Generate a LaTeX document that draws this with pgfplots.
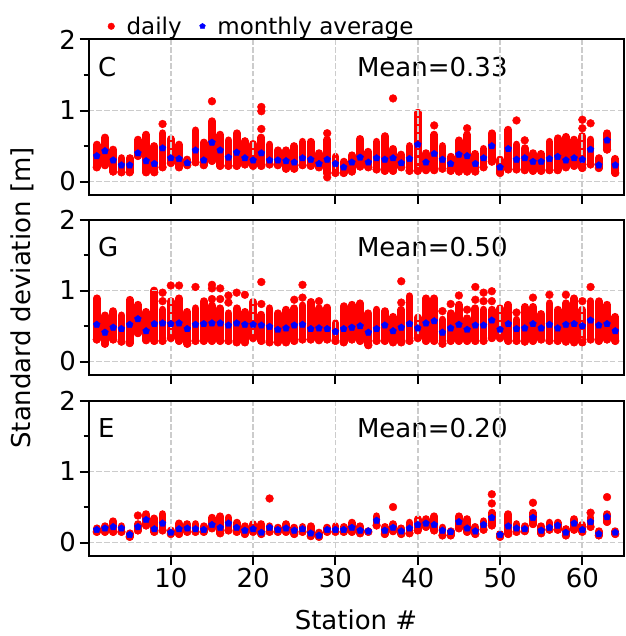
\documentclass[border=0pt]{standalone}
\usepackage{pgfplots}
\pgfplotsset{compat=1.18}
\usepackage{pgfplotstable}
\usepackage{fontspec}
\setmainfont{DejaVu Sans}

% Panel C: station, lowest daily, highest daily, monthly average
\pgfplotstableread{
s lo hi avg
1 0.20 0.52 0.36
2 0.23 0.62 0.43
3 0.14 0.45 0.30
4 0.13 0.33 0.23
5 0.13 0.33 0.23
6 0.36 0.59 0.40
7 0.13 0.66 0.29
8 0.13 0.50 0.25
9 0.20 0.68 0.47
10 0.26 0.60 0.33
11 0.20 0.52 0.32
12 0.23 0.31 0.26
13 0.27 0.72 0.44
14 0.23 0.55 0.30
15 0.29 0.85 0.55
16 0.22 0.66 0.44
17 0.22 0.58 0.34
18 0.22 0.68 0.41
19 0.24 0.57 0.33
20 0.22 0.53 0.30
21 0.22 0.62 0.40
22 0.24 0.52 0.30
23 0.23 0.44 0.30
24 0.18 0.44 0.29
25 0.18 0.50 0.27
26 0.23 0.56 0.33
27 0.22 0.56 0.31
28 0.20 0.40 0.25
29 0.12 0.59 0.31
30 0.12 0.35 0.25
31 0.12 0.28 0.20
32 0.14 0.37 0.27
33 0.21 0.60 0.34
34 0.20 0.42 0.27
35 0.17 0.56 0.33
36 0.15 0.64 0.31
37 0.15 0.46 0.33
38 0.20 0.38 0.26
39 0.15 0.50 0.32
40 0.15 0.97 0.52
41 0.16 0.40 0.27
42 0.16 0.66 0.39
43 0.18 0.50 0.31
44 0.15 0.35 0.25
45 0.14 0.58 0.38
46 0.14 0.66 0.36
47 0.14 0.39 0.25
48 0.20 0.46 0.33
49 0.28 0.68 0.50
50 0.12 0.31 0.20
51 0.17 0.73 0.46
52 0.17 0.52 0.31
53 0.16 0.47 0.33
54 0.15 0.40 0.28
55 0.15 0.39 0.28
56 0.16 0.56 0.32
57 0.16 0.61 0.35
58 0.20 0.63 0.30
59 0.22 0.59 0.33
60 0.19 0.64 0.31
61 0.24 0.59 0.45
62 0.19 0.33 0.23
63 0.45 0.68 0.58
64 0.12 0.32 0.23
}\dataC
\pgfplotstableread{
s y
9 0.81
15 1.13
21 1.05
21 0.99
21 0.74
29 0.68
29 0.06
37 1.17
42 0.79
46 0.75
52 0.86
53 0.58
60 0.87
60 0.75
61 0.82
}\outC

% Panel G
\pgfplotstableread{
s lo hi avg
1 0.31 0.89 0.52
2 0.25 0.65 0.41
3 0.31 0.71 0.48
4 0.28 0.65 0.46
5 0.26 0.87 0.52
6 0.40 0.80 0.60
7 0.30 0.70 0.43
8 0.29 1.00 0.53
9 0.29 0.73 0.54
10 0.33 0.85 0.53
11 0.29 0.89 0.54
12 0.25 0.70 0.46
13 0.29 0.75 0.52
14 0.29 0.85 0.53
15 0.29 0.79 0.54
16 0.29 0.75 0.54
17 0.29 0.68 0.51
18 0.27 0.75 0.54
19 0.27 0.70 0.52
20 0.33 0.84 0.52
21 0.29 0.66 0.51
22 0.27 0.75 0.49
23 0.27 0.68 0.45
24 0.27 0.73 0.47
25 0.29 0.75 0.51
26 0.31 0.79 0.52
27 0.31 0.84 0.46
28 0.30 0.75 0.47
29 0.31 0.76 0.46
30 0.29 0.54 0.42
31 0.27 0.78 0.46
32 0.31 0.80 0.48
33 0.29 0.82 0.50
34 0.23 0.68 0.41
35 0.29 0.73 0.46
36 0.29 0.71 0.51
37 0.27 0.63 0.43
38 0.27 0.73 0.48
39 0.29 0.92 0.53
40 0.33 0.62 0.47
41 0.29 0.89 0.54
42 0.29 0.89 0.57
43 0.25 0.59 0.41
44 0.29 0.68 0.47
45 0.29 0.80 0.52
46 0.29 0.61 0.45
47 0.29 0.75 0.51
48 0.29 0.73 0.51
49 0.33 0.73 0.58
50 0.33 0.75 0.45
51 0.29 0.80 0.53
52 0.29 0.59 0.46
53 0.28 0.77 0.47
54 0.29 0.77 0.53
55 0.31 0.67 0.47
56 0.29 0.82 0.52
57 0.29 0.73 0.47
58 0.28 0.82 0.52
59 0.27 0.89 0.53
60 0.27 0.73 0.50
61 0.31 0.85 0.58
62 0.29 0.85 0.51
63 0.31 0.80 0.53
64 0.29 0.63 0.43
}\dataG
\pgfplotstableread{
s y
9 0.97
9 0.85
10 1.07
11 1.07
13 1.05
15 1.08
15 1.03
15 0.88
16 1.03
16 0.88
17 0.93
17 0.83
18 0.97
19 0.94
21 1.12
21 0.81
25 0.87
26 1.08
26 0.90
28 0.85
38 1.13
38 0.83
43 0.71
44 0.81
45 0.93
46 0.73
47 1.05
47 0.87
48 0.97
48 0.85
49 0.99
49 0.85
52 0.69
54 0.90
56 0.94
58 0.94
60 0.85
61 1.05
}\outG

% Panel E
\pgfplotstableread{
s lo hi avg
1 0.15 0.20 0.18
2 0.15 0.23 0.20
3 0.15 0.30 0.22
4 0.15 0.23 0.20
5 0.08 0.13 0.11
6 0.17 0.26 0.22
7 0.24 0.40 0.32
8 0.15 0.34 0.19
9 0.17 0.40 0.27
10 0.12 0.17 0.14
11 0.12 0.27 0.19
12 0.15 0.26 0.20
13 0.15 0.26 0.19
14 0.15 0.23 0.18
15 0.20 0.35 0.25
16 0.13 0.37 0.21
17 0.17 0.35 0.27
18 0.15 0.28 0.21
19 0.12 0.23 0.17
20 0.15 0.26 0.19
21 0.12 0.26 0.14
22 0.15 0.23 0.21
23 0.15 0.21 0.18
24 0.15 0.26 0.20
25 0.12 0.21 0.17
26 0.15 0.22 0.19
27 0.09 0.23 0.13
28 0.08 0.14 0.10
29 0.15 0.21 0.18
30 0.15 0.23 0.18
31 0.15 0.22 0.18
32 0.15 0.28 0.21
33 0.13 0.23 0.17
34 0.15 0.16 0.16
35 0.24 0.37 0.31
36 0.12 0.22 0.17
37 0.16 0.26 0.21
38 0.12 0.20 0.16
39 0.13 0.28 0.20
40 0.17 0.33 0.25
41 0.22 0.33 0.27
42 0.17 0.37 0.25
43 0.10 0.21 0.17
44 0.10 0.16 0.15
45 0.20 0.37 0.29
46 0.15 0.33 0.20
47 0.12 0.22 0.16
48 0.18 0.30 0.25
49 0.24 0.42 0.35
50 0.08 0.12 0.11
51 0.12 0.40 0.23
52 0.15 0.26 0.20
53 0.16 0.23 0.19
54 0.26 0.42 0.35
55 0.13 0.23 0.17
56 0.18 0.28 0.21
57 0.18 0.28 0.24
58 0.10 0.19 0.14
59 0.18 0.33 0.27
60 0.15 0.25 0.18
61 0.22 0.35 0.29
62 0.10 0.16 0.12
63 0.29 0.40 0.36
64 0.12 0.16 0.14
}\dataE
\pgfplotstableread{
s y
6 0.38
22 0.62
37 0.50
49 0.68
49 0.55
54 0.56
61 0.42
63 0.64
}\outE

\newcommand{\bigfont}{\fontsize{26pt}{31pt}\selectfont}

\pgfplotsset{
  panel/.style={
    width=535pt, height=155.5pt, scale only axis,
    xmin=0, xmax=65, ymin=-0.19, ymax=2,
    xtick={10,20,30,40,50,60}, ytick={0,1,2}, minor ytick={0.5,1.5},
    tick pos=left, tick align=outside,
    major tick length=9pt, minor tick length=5pt,
    every major tick/.style={black, line width=2pt},
    every minor tick/.style={black, line width=1.5pt},
    axis line style={line width=2pt},
    grid=major,
    major grid style={draw=gray!40, line width=1.8pt, dash pattern=on 5.5pt off 2.4pt},
    axis on top,
    tick label style={font=\bigfont},
    /pgf/number format/assume math mode=true,
  },
  daily/.style={only marks, mark=*, color=red, mark size=3.9pt, forget plot},
  dailyrange/.style={daily,
    error bars/.cd, y dir=plus, y explicit, error mark=none,
    error bar style={line width=7.8pt, line cap=round, red, solid}},
  monthly/.style={only marks, mark=pentagon*, color=blue, mark size=3.6pt, forget plot},
}

\begin{document}
\begin{tikzpicture}
\useasboundingbox (0,0) rectangle (625pt,-636pt);

% ---------------- Panel C
\begin{axis}[panel, at={(88.5pt,-195pt)}, anchor=south west, xticklabels={},
  legend columns=2,
  legend image code/.code={\draw[#1] plot coordinates {(0pt,0pt)};},
  legend style={draw=none, fill=none, at={(0.036,1.085)}, anchor=west,
    font=\fontsize{23pt}{27pt}\selectfont, inner sep=0pt,
    /tikz/every odd column/.append style={column sep=10pt},
    /tikz/every even column/.append style={column sep=16pt}},
]
\addplot[dailyrange] table[x=s, y=lo, y error expr=\thisrow{hi}-\thisrow{lo}] {\dataC};
\addplot[daily] table[x=s, y=y] {\outC};
\addplot[monthly] table[x=s, y=avg] {\dataC};
\addlegendimage{only marks, mark=*, red, mark size=3.3pt}
\addlegendentry{daily}
\addlegendimage{only marks, mark=pentagon*, blue, mark size=3pt}
\addlegendentry{monthly average}
\node[anchor=west, inner sep=0pt, font=\bigfont] at (axis cs:1.15,1.615) {C};
\node[anchor=west, inner sep=0pt, font=\bigfont] at (axis cs:32.6,1.615) {Mean=0.33};
\end{axis}

% ---------------- Panel G
\begin{axis}[panel, at={(88.5pt,-375pt)}, anchor=south west, xticklabels={}]
\addplot[dailyrange] table[x=s, y=lo, y error expr=\thisrow{hi}-\thisrow{lo}] {\dataG};
\addplot[daily] table[x=s, y=y] {\outG};
\addplot[monthly] table[x=s, y=avg] {\dataG};
\node[anchor=west, inner sep=0pt, font=\bigfont] at (axis cs:1.15,1.615) {G};
\node[anchor=west, inner sep=0pt, font=\bigfont] at (axis cs:32.6,1.615) {Mean=0.50};
\end{axis}

% ---------------- Panel E
\begin{axis}[panel, at={(88.5pt,-556pt)}, anchor=south west]
\addplot[dailyrange] table[x=s, y=lo, y error expr=\thisrow{hi}-\thisrow{lo}] {\dataE};
\addplot[daily] table[x=s, y=y] {\outE};
\addplot[monthly] table[x=s, y=avg] {\dataE};
\node[anchor=west, inner sep=0pt, font=\bigfont] at (axis cs:1.15,1.615) {E};
\node[anchor=west, inner sep=0pt, font=\bigfont] at (axis cs:32.6,1.615) {Mean=0.20};
\end{axis}

\node[rotate=90, font=\bigfont, inner sep=0pt] at (22pt,-298pt) {Standard deviation [m]};
\node[anchor=base, font=\bigfont, inner sep=0pt] at (356pt,-629pt) {Station \#};
\end{tikzpicture}
\end{document}
